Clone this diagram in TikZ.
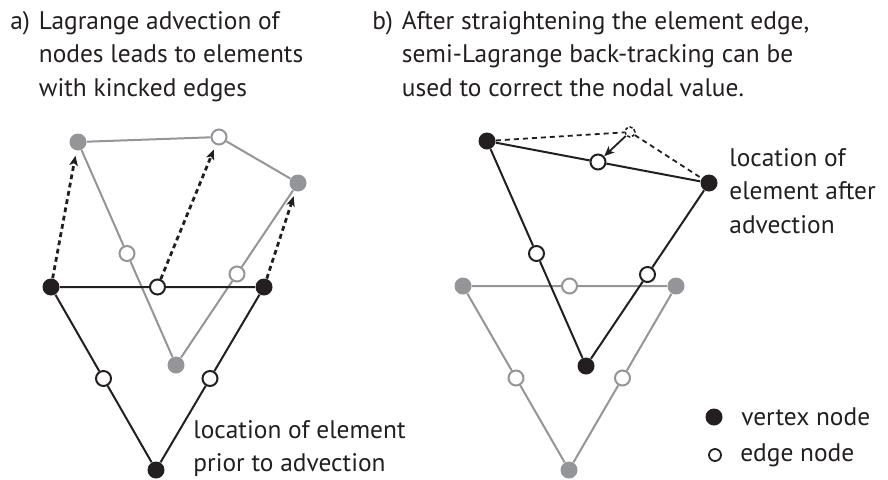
\documentclass[tikz,border=0pt]{standalone}
\usepackage{fontspec}
\setmainfont{PT Sans}
\usetikzlibrary{positioning,calc,arrows.meta}
\definecolor{cink}{HTML}{231F20}
\definecolor{cgray}{HTML}{939598}

\begin{document}
\begin{tikzpicture}[x=0.5pt,y=-0.5pt,>={Stealth[length=5pt,width=4.2pt,inset=1.2pt]},
    vtx/.style={circle,fill=#1,inner sep=0pt,minimum size=8.5pt},
    edg/.style={circle,draw=#1,fill=white,line width=1pt,inner sep=0pt,minimum size=7.5pt},
    side/.style={draw=#1,line width=1pt},
    adv/.style={->,cink,line width=1.4pt,dash pattern=on 2.4pt off 1.8pt,shorten >=2.5pt},
    lbl/.style={inner sep=0pt,align=left,text=cink,font=\fontsize{12.7}{16.7}\selectfont}]
        \useasboundingbox (0,0) rectangle (888,479);
        % a) element after advection (grey), top edge node off the straight edge
        \node[vtx=cgray] (ga1) at (78,142) {};
        \node[vtx=cgray] (ga2) at (298,183) {};
        \node[vtx=cgray] (ga3) at (176,365) {};
        \node[edg=cgray] (ga12) at (219,137) {};
        \node[edg=cgray] (ga13) at ($(ga1)!0.5!(ga3)$) {};
        \node[edg=cgray] (ga23) at ($(ga2)!0.5!(ga3)$) {};
        \draw[side=cgray] (ga1) -- (ga12) -- (ga2) -- (ga23) -- (ga3) -- (ga13) -- (ga1);
        % a) element prior to advection
        \node[vtx=cink] (ba1) at (51,287) {};
        \node[vtx=cink] (ba2) at (264,287) {};
        \node[vtx=cink] (ba3) at (156,470) {};
        \node[edg=cink] (ba12) at ($(ba1)!0.5!(ba2)$) {};
        \node[edg=cink] (ba13) at ($(ba1)!0.5!(ba3)$) {};
        \node[edg=cink] (ba23) at ($(ba2)!0.5!(ba3)$) {};
        \draw[side=cink] (ba1) -- (ba12) -- (ba2) -- (ba23) -- (ba3) -- (ba13) -- (ba1);
        % advection paths
        \draw[adv] (ba1) -- (ga1);
        \draw[adv] (ba12) -- (ga12);
        \draw[adv] (ba2) -- (ga2);

        % b) element prior to advection (grey)
        \node[vtx=cgray] (gb1) at (463,286) {};
        \node[vtx=cgray] (gb2) at (676,286) {};
        \node[vtx=cgray] (gb3) at (569,470) {};
        \node[edg=cgray] (gb12) at ($(gb1)!0.5!(gb2)$) {};
        \node[edg=cgray] (gb13) at ($(gb1)!0.5!(gb3)$) {};
        \node[edg=cgray] (gb23) at ($(gb2)!0.5!(gb3)$) {};
        \draw[side=cgray] (gb1) -- (gb12) -- (gb2) -- (gb23) -- (gb3) -- (gb13) -- (gb1);
        % b) straightened element after advection
        \node[vtx=cink] (bb1) at (487,141) {};
        \node[vtx=cink] (bb2) at (709,183) {};
        \node[vtx=cink] (bb3) at (586,366) {};
        \node[edg=cink] (bb12) at ($(bb1)!0.5!(bb2)$) {};
        \node[edg=cink] (bb13) at ($(bb1)!0.5!(bb3)$) {};
        \node[edg=cink] (bb23) at ($(bb2)!0.5!(bb3)$) {};
        \draw[side=cink] (bb1) -- (bb12) -- (bb2) -- (bb23) -- (bb3) -- (bb13) -- (bb1);
        % kinked position and back-tracking
        \node[circle,draw=cink,dash pattern=on 1.5pt off 1pt,line width=0.8pt,inner sep=0pt,minimum size=5pt] (kink) at (630,132) {};
        \draw[cink,line width=0.9pt,dash pattern=on 2.5pt off 2pt] (bb1) -- (kink) -- (bb2);
        \draw[->,cink,line width=0.9pt] (kink) -- (bb12);

        % captions
        \node[lbl,anchor=north west] (capa) at (10,11) {a)};
        \node[lbl,below right=0pt and 4pt of capa.north east] (txta) {Lagrange advection of\\nodes leads to elements\\with kincked edges};
        \node[lbl,anchor=north west] (capb) at (372,11) {b)};
        \node[lbl,below right=0pt and 4pt of capb.north east] (txtb) {After straightening the element edge,\\semi-Lagrange back-tracking can be\\used to correct the nodal value.};
        \node[lbl,anchor=north west] (lblbefore) at (193,420) {location of element\\prior to advection};
        \node[lbl,anchor=north west] (lblafter) at (729,148) {location of\\element after\\advection};

        % legend
        \node[vtx=cink] (lgv) at (714,417) {};
        \node[lbl,right=9pt of lgv] (lgvt) {vertex node};
        \node[edg=cink,minimum size=6pt,line width=0.9pt] (lge) at (715,455) {};
        \node[lbl,right=9pt of lge] (lget) {edge node};
      \end{tikzpicture}
\end{document}
